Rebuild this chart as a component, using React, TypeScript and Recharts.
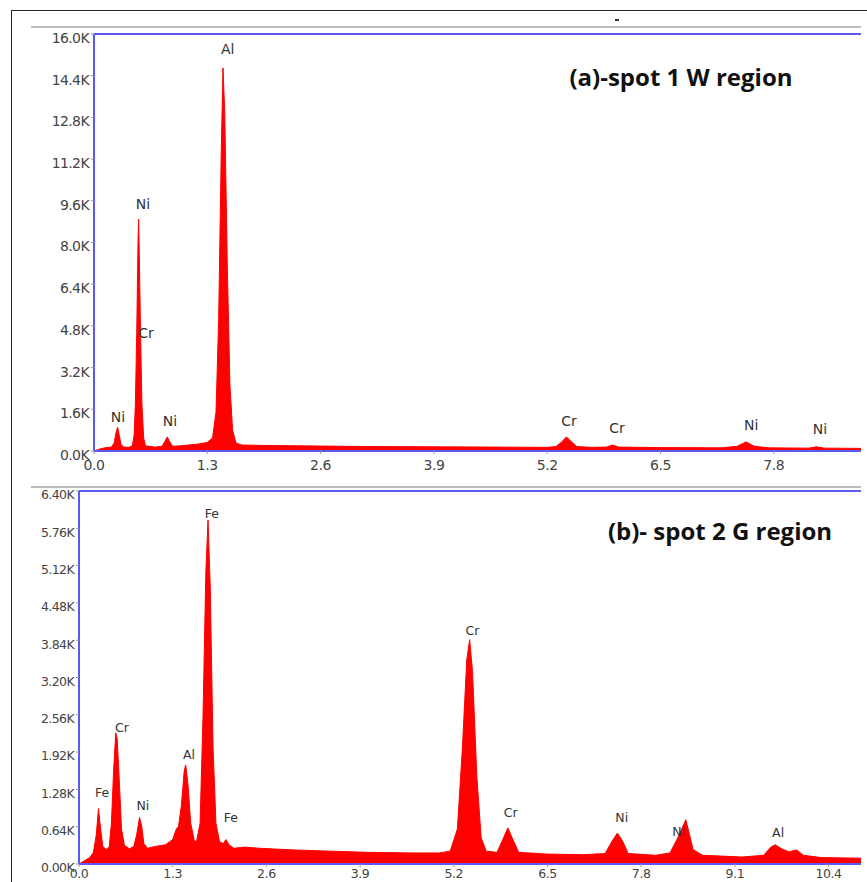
import { AreaChart, Area, XAxis, YAxis, ReferenceLine, ReferenceDot } from "recharts"

// spot 1 (W region) spectrum, keV / counts
const topEnergy = [
  0, 0.05, 0.12, 0.2, 0.23, 0.25, 0.27, 0.29, 0.31, 0.34, 0.4, 0.44, 0.46, 0.475, 0.49, 0.505, 0.512, 0.52, 0.535,
  0.55, 0.57, 0.59, 0.7, 0.78, 0.81, 0.84, 0.87, 0.9, 1.0, 1.2, 1.3, 1.36, 1.4, 1.43, 1.46, 1.48, 1.5, 1.53, 1.56,
  1.59, 1.63, 1.7, 2.0, 2.6, 3.2, 3.9, 4.6, 5.2, 5.3, 5.36, 5.42, 5.48, 5.54, 5.7, 5.88, 5.95, 6.02, 6.5, 7.2, 7.38,
  7.48, 7.58, 7.75, 8.2, 8.29, 8.38, 8.8,
]
const topCounts = [
  0, 60, 120, 150, 300, 650, 920, 600, 250, 150, 140, 200, 600, 1800, 4500, 8000, 8900, 7500, 4300,
  1800, 500, 200, 150, 180, 350, 540, 350, 180, 200, 270, 330, 500, 1500, 5000, 11500, 14700, 13000, 7000, 2500,
  800, 300, 230, 210, 190, 170, 160, 150, 140, 170, 330, 540, 350, 170, 140, 150, 230, 150, 130, 120, 180,
  350, 180, 120, 110, 160, 110, 100,
]

// spot 2 (G region) spectrum, keV / counts
const bottomEnergy = [
  0, 0.08, 0.15, 0.2, 0.24, 0.27, 0.3, 0.33, 0.38, 0.42, 0.45, 0.48, 0.51, 0.53, 0.56, 0.59, 0.63, 0.7, 0.76, 0.8,
  0.84, 0.87, 0.9, 0.95, 1.05, 1.2, 1.3, 1.35, 1.38, 1.42, 1.46, 1.48, 1.51, 1.55, 1.6, 1.63, 1.68, 1.72, 1.76,
  1.79, 1.82, 1.86, 1.9, 1.95, 2.0, 2.04, 2.08, 2.15, 2.3, 2.5, 3.0, 3.5, 4.0, 4.6, 5.0, 5.15, 5.25, 5.32, 5.38,
  5.42, 5.46, 5.52, 5.58, 5.65, 5.8, 5.88, 5.95, 6.02, 6.1, 6.5, 7.0, 7.3, 7.4, 7.47, 7.54, 7.62, 8.0, 8.2, 8.3,
  8.37, 8.42, 8.46, 8.52, 8.65, 9.2, 9.5, 9.6, 9.66, 9.75, 9.85, 9.96, 10.05, 10.3, 10.85,
]
const bottomCounts = [
  0, 60, 110, 200, 500, 950, 600, 300, 250, 300, 700, 1600, 2250, 2150, 1400, 600, 320, 260, 300, 500,
  800, 650, 350, 270, 300, 330, 420, 600, 640, 1000, 1600, 1700, 1400, 700, 400, 380, 700, 2500, 5000,
  5900, 4800, 2000, 700, 380, 350, 420, 330, 270, 290, 270, 240, 220, 200, 190, 190, 220, 600, 2000, 3500,
  3850, 3300, 1500, 450, 220, 200, 420, 620, 420, 200, 170, 160, 180, 400, 530, 400, 180, 150, 190, 430,
  620, 760, 560, 250, 150, 120, 150, 290, 330, 260, 210, 240, 150, 110, 100,
]

// peak labels: element, keV, counts (text centre)
const topLabelNames = ["Al", "Ni", "Cr", "Ni", "Ni", "Cr", "Cr", "Ni", "Ni"]
const topLabelKev = [1.535, 0.561, 0.596, 0.275, 0.871, 5.45, 6.0, 7.54, 8.33]
const topLabelCounts = [15440, 9470, 4540, 1310, 1155, 1155, 885, 1000, 850]

const bottomLabelNames = ["Fe", "Cr", "Al", "Fe", "Ni", "Fe", "Cr", "Cr", "Ni", "Ni", "Al"]
const bottomLabelKev = [1.843, 0.596, 1.525, 0.319, 0.887, 2.107, 5.46, 5.99, 7.53, 8.32, 9.7]
const bottomLabelCounts = [6020, 2334, 1870, 1218, 995, 789, 3998, 875, 789, 549, 532]

const topXTicks = [0, 1.3, 2.6, 3.9, 5.2, 6.5, 7.8]
const bottomXTicks = [0, 1.3, 2.6, 3.9, 5.2, 6.5, 7.8, 9.1, 10.4]
const topYTicks = [0, 1600, 3200, 4800, 6400, 8000, 9600, 11200, 12800, 14400, 16000]
const bottomYTicks = [0, 640, 1280, 1920, 2560, 3200, 3840, 4480, 5120, 5760, 6400]

const topData = topEnergy.map((kev, i) => ({ kev, counts: topCounts[i] }))
const bottomData = bottomEnergy.map((kev, i) => ({ kev, counts: bottomCounts[i] }))

const BLUE = "#5a5af2"
const FONT = "DejaVu Sans, sans-serif"

function YTick(props: any) {
  const { x, y, payload, digits, size } = props
  return (
    <text x={x} y={y + 4} dy="0.35em" textAnchor="end" fontSize={size} fill="#444" fontFamily={FONT} letterSpacing={-0.6}>
      {(payload.value / 1000).toFixed(digits) + "K"}
    </text>
  )
}

function XTick(props: any) {
  const { x, y, payload, size, shift } = props
  return (
    <text x={x} y={y + shift} dy="0.75em" textAnchor="middle" fontSize={size} fill="#444" fontFamily={FONT} letterSpacing={-0.4}>
      {payload.value.toFixed(1)}
    </text>
  )
}

function Spectrum(props: any) {
  const { data, xMax, xTicks, yMax, yTicks, names, kevs, counts, yWidth, margin, width, height, fontSize, digits, xHeight, shift } = props
  return (
    <AreaChart width={width} height={height} data={data} margin={margin}>
      <XAxis
        type="number"
        dataKey="kev"
        domain={[0, xMax]}
        ticks={xTicks}
        allowDataOverflow
        height={xHeight}
        axisLine={{ stroke: BLUE, strokeWidth: 2 }}
        tickLine={{ stroke: "#999" }}
        tickSize={3}
        tick={<XTick size={fontSize} shift={shift} />}
      />
      <YAxis
        domain={[0, yMax]}
        ticks={yTicks}
        width={yWidth}
        axisLine={{ stroke: BLUE, strokeWidth: 2 }}
        tickLine={{ stroke: "#999" }}
        tickSize={3}
        tick={<YTick size={fontSize} digits={digits} />}
      />
      <ReferenceLine y={yMax} stroke={BLUE} strokeWidth={2} />
      <Area
        type="linear"
        dataKey="counts"
        stroke="#ff0000"
        strokeWidth={1}
        fill="#ff0000"
        fillOpacity={1}
        isAnimationActive={false}
        dot={false}
        activeDot={false}
      />
      {names.map((n: string, i: number) => (
        <ReferenceDot
          key={i}
          x={kevs[i]}
          y={counts[i]}
          r={0}
          fill="none"
          stroke="none"
          label={{ value: n, position: "center", fontSize: fontSize, fill: "#333", fontFamily: FONT }}
        />
      ))}
    </AreaChart>
  )
}

const titleStyle = {
  position: "absolute" as const,
  width: 260,
  textAlign: "center" as const,
  fontFamily: "'Open Sans', sans-serif",
  fontWeight: 700,
  fontSize: 24,
  lineHeight: "32px",
  color: "#111",
  whiteSpace: "nowrap" as const,
}

export default function App() {
  return (
    <div style={{ position: "absolute", left: 0, top: 0, width: 867, height: 882, background: "#fff", overflow: "hidden" }}>
      {/* outer frame */}
      <div style={{ position: "absolute", left: 11, top: 10, width: 900, height: 900, borderLeft: "1.5px solid #222", borderTop: "1.5px solid #222" }} />
      <div style={{ position: "absolute", left: 615, top: 19, width: 4, height: 1.5, background: "#333" }} />
      <div style={{ position: "absolute", left: 31, top: 26, width: 830, height: 2, background: "#bbb" }} />
      <div style={{ position: "absolute", left: 31, top: 486, width: 830, height: 2, background: "#bbb" }} />

      <div style={{ position: "absolute", left: 0, top: 0 }}>
        <Spectrum
          data={topData}
          xMax={8.8}
          xTicks={topXTicks}
          yMax={16000}
          yTicks={topYTicks}
          names={topLabelNames}
          kevs={topLabelKev}
          counts={topLabelCounts}
          yWidth={80}
          xHeight={30}
          width={867}
          height={482}
          margin={{ top: 34, right: 6, left: 14, bottom: 1 }}
          fontSize={14}
          digits={1}
          shift={3}
        />
      </div>
      <div style={{ position: "absolute", left: 0, top: 456 }}>
        <Spectrum
          data={bottomData}
          xMax={10.85}
          xTicks={bottomXTicks}
          yMax={6400}
          yTicks={bottomYTicks}
          names={bottomLabelNames}
          kevs={bottomLabelKev}
          counts={bottomLabelCounts}
          yWidth={70}
          xHeight={18}
          width={867}
          height={426}
          margin={{ top: 35, right: 6, left: 9, bottom: 0 }}
          fontSize={12.5}
          digits={2}
          shift={0}
        />
      </div>

      <div style={{ ...titleStyle, left: 551, top: 61 }}>(a)-spot 1 W region</div>
      <div style={{ ...titleStyle, left: 590, top: 515 }}>(b)- spot 2 G region</div>
    </div>
  )
}
